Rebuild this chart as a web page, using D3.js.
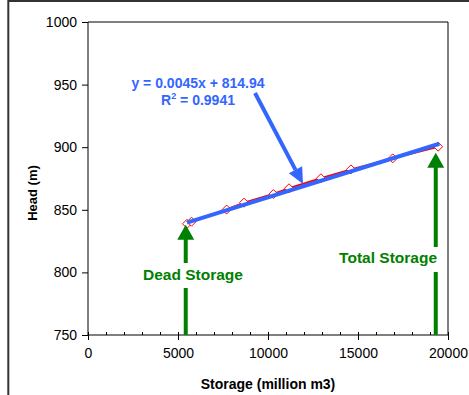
<!DOCTYPE html>
<html>
<head>
<meta charset="utf-8">
<script src="https://cdn.jsdelivr.net/npm/d3@7"></script>
<style>
  html, body { margin: 0; padding: 0; background: #fff; }
  svg { display: block; font-family: "Liberation Sans", Arial, sans-serif; }
</style>
</head>
<body>
<svg id="chart" width="469" height="395"></svg>
<script>
// ---- data ----
const storage = [5500, 5750, 7700, 8670, 10300, 11170, 12940, 14610, 16930, 19450];
const head    = [838.8, 840.5, 850.2, 855.7, 862.6, 867.2, 875.2, 882.3, 891.1, 900.4];
const trendSlope = 0.0045;
const trendIntercept = 814.94;
const trendRange = [5500, 19520];
const xMajorTicks = [0, 5000, 10000, 15000, 20000];
const xMinorTicks = d3.range(0, 20001, 1000);
const yTicks = [750, 800, 850, 900, 950, 1000];
const deadStorage = { x: 5430, tip: 838, label: "Dead Storage" };
const totalStorage = { x: 19320, tip: 895.5, label: "Total Storage" };
const eqText = "y = 0.0045x + 814.94";
const r2Value = "0.9941";

// ---- scales ----
const svg = d3.select("#chart");
const x = d3.scaleLinear().domain([0, 20000]).range([88, 448]);
const y = d3.scaleLinear().domain([750, 1000]).range([335, 22]);

const green = "#008000", blue = "#3366ff", red = "#ff0000";

// outer frame
svg.append("rect").attr("x", 8.3).attr("y", 1).attr("width", 480).attr("height", 420)
  .attr("fill", "none").attr("stroke", "#333").attr("stroke-width", 2);

// plot area border (top & right)
svg.append("path")
  .attr("d", `M${x(0)},${y(1000)}H${x(20000)}V${y(750)}`)
  .attr("fill", "none").attr("stroke", "#000").attr("stroke-width", 1);

// x axis major
const xAxisG = svg.append("g").attr("transform", `translate(0,${y(750)})`)
  .call(d3.axisBottom(x).tickValues(xMajorTicks).tickSize(5).tickPadding(8).tickFormat(d3.format("d")));
// x axis minor (inside)
const xMinorG = svg.append("g").attr("transform", `translate(0,${y(750)})`)
  .call(d3.axisTop(x).tickValues(xMinorTicks).tickSize(3).tickFormat(""));
xMinorG.select(".domain").remove();

// y axis
const yAxisG = svg.append("g").attr("transform", `translate(${x(0)},0)`)
  .call(d3.axisLeft(y).tickValues(yTicks).tickSize(6).tickPadding(5).tickFormat(d3.format("d")));

[xAxisG, xMinorG, yAxisG].forEach(g => {
  g.selectAll("path.domain").attr("stroke", "#000").attr("stroke-width", 1);
  g.selectAll(".tick line").attr("stroke", "#000");
  g.selectAll("text").attr("font-size", 14).attr("fill", "#000")
    .attr("font-family", "'Liberation Sans', Arial, sans-serif");
});
xAxisG.select(".domain").attr("d", `M${x(0)},0H${x(20000)}`);
yAxisG.select(".domain").attr("d", `M0,${y(750)}V${y(1000)}`);

// axis titles
svg.append("text").attr("x", 268).attr("y", 389).attr("text-anchor", "middle")
  .attr("font-size", 14).attr("font-weight", "bold").text("Storage (million m3)");
svg.append("text").attr("transform", "translate(37,193) rotate(-90)").attr("text-anchor", "middle")
  .attr("font-size", 13).attr("font-weight", "bold").text("Head (m)");

const pts = storage.map((s, i) => [s, head[i]]);

// red observed line
svg.append("path").datum(pts)
  .attr("d", d3.line().x(d => x(d[0])).y(d => y(d[1])))
  .attr("fill", "none").attr("stroke", red).attr("stroke-width", 2);

// diamonds
svg.append("g").selectAll("path").data(pts).join("path")
  .attr("transform", d => `translate(${x(d[0])},${y(d[1])})`)
  .attr("d", "M0,-4.5L4.5,0L0,4.5L-4.5,0Z")
  .attr("fill", "#fff").attr("stroke", red).attr("stroke-width", 1);

// trend line
svg.append("path").datum(trendRange.map(s => [s, trendSlope * s + trendIntercept]))
  .attr("d", d3.line().x(d => x(d[0])).y(d => y(d[1])))
  .attr("fill", "none").attr("stroke", blue).attr("stroke-width", 4);

// equation text
const eq = svg.append("g").attr("fill", blue).attr("font-weight", "bold").attr("font-size", 14)
  .attr("text-anchor", "middle");
eq.append("text").attr("x", 198).attr("y", 88).text(eqText);
const r2 = eq.append("text").attr("x", 198).attr("y", 105);
r2.append("tspan").text("R");
r2.append("tspan").attr("font-size", 9).attr("dy", -6).text("2");
r2.append("tspan").attr("dy", 6).text(" = " + r2Value);

// blue pointer arrow
function arrow(x1, y1, x2, y2, color, w, headLen, headW) {
  const ang = Math.atan2(y2 - y1, x2 - x1);
  const bx = x2 - headLen * Math.cos(ang), by = y2 - headLen * Math.sin(ang);
  svg.append("line").attr("x1", x1).attr("y1", y1).attr("x2", bx).attr("y2", by)
    .attr("stroke", color).attr("stroke-width", w);
  const px = -Math.sin(ang) * headW / 2, py = Math.cos(ang) * headW / 2;
  svg.append("path")
    .attr("d", `M${x2},${y2}L${bx + px},${by + py}L${bx - px},${by - py}Z`)
    .attr("fill", color);
}
arrow(255, 93, 303, 184, blue, 4, 16, 15);

// green storage arrows with label gaps
function storageArrow(info, textX, textY, anchor, gapTop, gapBottom) {
  const sx = x(info.x);
  svg.append("line").attr("x1", sx).attr("x2", sx).attr("y1", y(750)).attr("y2", gapBottom)
    .attr("stroke", green).attr("stroke-width", 4);
  svg.append("line").attr("x1", sx).attr("x2", sx).attr("y1", gapTop).attr("y2", y(info.tip) + 13)
    .attr("stroke", green).attr("stroke-width", 4);
  const tipY = y(info.tip);
  svg.append("path")
    .attr("d", `M${sx},${tipY}L${sx + 8.5},${tipY + 15}L${sx - 8.5},${tipY + 15}Z`)
    .attr("fill", green);
  svg.append("text").attr("x", textX).attr("y", textY).attr("text-anchor", anchor)
    .attr("fill", green).attr("font-weight", "bold").attr("font-size", 15.5).text(info.label);
}
storageArrow(deadStorage, 193, 280, "middle", 263, 288);
storageArrow(totalStorage, 437, 263, "end", 247, 272);
</script>
</body>
</html>
